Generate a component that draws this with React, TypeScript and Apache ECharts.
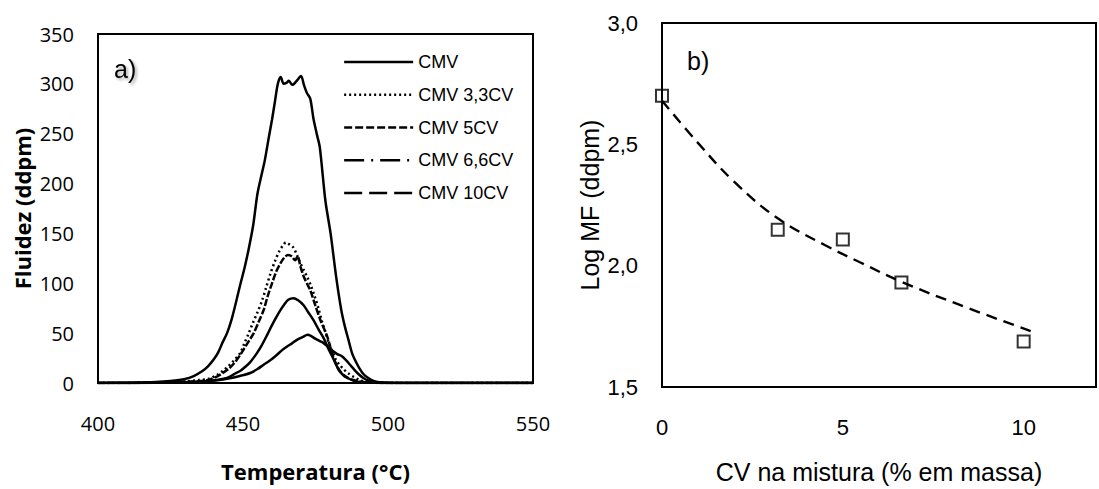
import React, { useEffect, useRef } from "react";
import * as echarts from "echarts";

// ---------- Panel a) : fluidity curves ----------
const seriesNames = ["CMV", "CMV 3,3CV", "CMV 5CV", "CMV 6,6CV", "CMV 10CV"];

const cmvT = [400, 410, 420, 425, 430, 433, 436, 438, 440, 441.5, 443, 444.5, 446, 447.5, 449, 450.5, 452, 453.5, 455, 456.5, 457.5, 459, 460, 461, 461.8, 462.4, 463, 464, 465, 465.8, 467, 468.5, 470, 471, 472, 473.2, 474.3, 475.5, 476.5, 478.4, 480.2, 482.1, 483.9, 485.1, 486.3, 487.6, 488.8, 490.1, 491.5, 493.2, 495, 497, 500, 510, 550];
const cmvF = [0, 0.3, 1, 2, 4, 7, 12, 17, 24, 31, 41, 50, 63, 80, 98, 115, 135, 158, 190, 210, 223, 248, 264, 282, 297, 304, 307, 300, 301, 303, 299, 303, 308, 299, 291, 285, 265, 249, 236, 183, 150, 107, 73, 57, 44, 30, 22, 15, 9, 5, 2, 0.7, 0.2, 0, 0];

const cv33T = [400, 420, 430, 435, 438, 441, 443, 445, 447, 449, 450.5, 452, 453.5, 455, 456.5, 458, 459.5, 461, 462.5, 463.8, 464.8, 466, 467.3, 468.5, 469.8, 471, 472.2, 473.5, 474.7, 476, 477.1, 478.4, 479.6, 480.9, 482.1, 483.4, 484.6, 486.2, 488.2, 490.2, 492.4, 495, 500, 550];
const cv33F = [0, 0.3, 1.5, 3, 4, 8, 12, 17, 23, 30, 40, 50, 61, 71, 82, 96, 110, 122, 132, 138, 141, 139, 136, 129, 120, 113, 106, 97, 87, 75, 63, 51, 40, 31, 23, 18, 14, 10, 6, 3, 1, 0.3, 0, 0];

const cv5T = [400, 420, 430, 435, 438, 441, 443, 445, 447, 449, 450.5, 452, 453.7, 455.5, 457.1, 458.5, 460, 461.5, 462.9, 464.3, 465.5, 466.8, 468, 468.8, 469.8, 470.9, 472, 473.2, 474.9, 476.7, 479, 480.7, 482.4, 484, 486, 488, 490, 493, 500, 550];
const cv5F = [0, 0.3, 1.2, 2, 3, 6.5, 10, 14, 20, 28, 35, 42, 50, 62, 73, 87, 100, 112, 120, 126, 128.3, 127, 123, 127, 117, 107, 100, 93, 78, 63, 47, 30, 17, 10, 5.5, 3, 1.5, 0.5, 0, 0];

const cv66T = [400, 420, 430, 435, 438, 441, 444.5, 447, 449, 450.5, 452.5, 454.8, 456.5, 458.3, 460, 461.5, 462.9, 464.3, 465.6, 467.4, 469, 470.9, 472.5, 474.3, 476, 477.8, 479.2, 480.7, 482, 483, 484.5, 486, 488, 490, 495, 500, 550];
const cv66F = [0, 0.2, 0.8, 1.3, 2, 3, 5, 9, 12, 15.5, 21, 30, 38, 48, 58, 66, 73, 79, 83.5, 85, 83, 78, 71, 63, 54, 45, 36, 27, 19, 13, 8, 5, 2.5, 1, 0.2, 0, 0];

const cv10T = [400, 420, 430, 435, 440, 444, 446.8, 449.5, 452.5, 455, 457.1, 459.5, 461.7, 463.5, 465.2, 467, 468.6, 470.5, 472.3, 473.5, 474.9, 476.5, 477.8, 479.5, 481, 482.5, 484, 485.5, 487, 488.5, 490, 491.5, 493, 495, 498, 505, 550];
const cv10F = [0, 0.2, 0.8, 1.5, 2.5, 4, 5.5, 7.5, 10, 14, 18.3, 23, 28.3, 33, 36.6, 40, 43.3, 46, 48.3, 47, 44.5, 42, 40, 36, 32, 29, 27, 23, 18, 13, 8.5, 5, 2.5, 1, 0.2, 0, 0];

const tempTicks = [400, 450, 500, 550];

// ---------- Panel b) : log MF vs CV ----------
const cvContent = [0, 3.2, 5, 6.62, 10];
const logMF = [2.7, 2.148, 2.108, 1.931, 1.688];

const trendCV = [0, 1, 2, 3.2, 4.5, 5.5, 6.6, 8.2, 10.2];
const trendLogMF = [2.68, 2.505, 2.345, 2.195, 2.085, 2.012, 1.935, 1.84, 1.73];

const pairs = (xs: number[], ys: number[]) => xs.map((x, i) => [x, ys[i]]);

// dash pattern shown in the legend / dash pattern of the plotted (densely sampled) curve
const legendDash: any[] = ["solid", [2, 3], [8, 3], [20, 7, 2, 7], [18, 7]];
const curveDash: any[] = ["solid", [2, 3], [7, 2], "solid", "solid"];

export default function App() {
  const ref = useRef<HTMLDivElement>(null);

  useEffect(() => {
    if (!ref.current) return;
    const chart = echarts.init(ref.current, undefined, { renderer: "svg" });
    const curves = [
      [cmvT, cmvF],
      [cv33T, cv33F],
      [cv5T, cv5F],
      [cv66T, cv66F],
      [cv10T, cv10F],
    ];
    const lineSeries = curves.map(([xs, ys], i) => ({
      name: seriesNames[i],
      type: "line",
      xAxisIndex: 0,
      yAxisIndex: 0,
      data: pairs(xs, ys),
      symbol: "none",
      smooth: 0.3,
      lineStyle: { color: "#000", width: 2.5, type: curveDash[i] },
      itemStyle: { color: "#000" },
      z: 3,
    }));

    const option: any = {
      animation: false,
      backgroundColor: "#fff",
      textStyle: { fontFamily: "Liberation Sans" },
      grid: [
        { left: 98, top: 34, width: 435, height: 349, show: true, borderColor: "#000", borderWidth: 2, backgroundColor: "transparent" },
        { left: 662, top: 23, width: 443, height: 366, show: true, borderColor: "#000", borderWidth: 2, backgroundColor: "transparent" },
      ],
      legend: {
        data: seriesNames.map((n, i) => ({
          name: n,
          lineStyle: { type: legendDash[i], width: 2.3, color: "#000" },
        })),
        orient: "vertical",
        left: 343,
        top: 53,
        padding: 0,
        itemWidth: 69,
        itemHeight: 18,
        itemGap: 14.75,
        selectedMode: false,
        textStyle: { fontFamily: "Liberation Sans", fontSize: 18, color: "#000", lineHeight: 18 },
        lineStyle: { width: 2.3 },
        itemStyle: { opacity: 0, borderWidth: 0 },
      },
      xAxis: [
        {
          gridIndex: 0,
          type: "value",
          min: tempTicks[0],
          max: tempTicks[tempTicks.length - 1],
          interval: 50,
          axisLine: { show: false },
          axisTick: { show: false },
          splitLine: { show: false },
          axisLabel: { fontFamily: "Open Sans", fontSize: 20, color: "#000", margin: 30 },
          name: "Temperatura (°C)",
          nameLocation: "middle",
          nameGap: 77,
          nameTextStyle: { fontFamily: "Open Sans", fontWeight: "bold", fontSize: 22, color: "#000" },
        },
        {
          gridIndex: 1,
          type: "value",
          min: 0,
          max: 12,
          interval: 5,
          axisLine: { show: false },
          axisTick: { show: false },
          splitLine: { show: false },
          axisLabel: {
            fontFamily: "Liberation Sans",
            fontSize: 22,
            color: "#000",
            margin: 29,
            formatter: (v: number) => (v % 5 === 0 ? String(v) : ""),
          },
          name: "CV na mistura (% em massa)",
          nameLocation: "middle",
          nameGap: 72,
          nameTextStyle: { fontFamily: "Liberation Sans", fontSize: 25, color: "#000" },
        },
      ],
      yAxis: [
        {
          gridIndex: 0,
          type: "value",
          min: 0,
          max: 350,
          interval: 50,
          axisLine: { show: false },
          axisTick: { show: false },
          splitLine: { show: false },
          axisLabel: { fontFamily: "Open Sans", fontSize: 20, color: "#000", margin: 24 },
          name: "Fluidez (ddpm)",
          nameLocation: "middle",
          nameGap: 65,
          nameTextStyle: { fontFamily: "Open Sans", fontWeight: "bold", fontSize: 22, color: "#000" },
        },
        {
          gridIndex: 1,
          type: "value",
          min: 1.5,
          max: 3.0,
          interval: 0.5,
          axisLine: { show: false },
          axisTick: { show: false },
          splitLine: { show: false },
          axisLabel: {
            fontFamily: "Liberation Sans",
            fontSize: 22,
            color: "#000",
            margin: 24,
            formatter: (v: number) => v.toFixed(1).replace(".", ","),
          },
          name: "Log MF (ddpm)",
          nameLocation: "middle",
          nameGap: 60,
          nameTextStyle: { fontFamily: "Liberation Sans", fontSize: 25, color: "#000" },
        },
      ],
      graphic: [
        {
          type: "text",
          x: 114,
          y: 68.5,
          style: {
            text: "a)",
            font: "25px 'Liberation Sans'",
            fill: "#000",
            textAlign: "left",
            textVerticalAlign: "middle",
            textShadowColor: "rgba(0,0,0,0.35)",
            textShadowBlur: 3,
            textShadowOffsetX: 2,
            textShadowOffsetY: 2,
          },
        },
        {
          type: "text",
          x: 687,
          y: 61,
          style: {
            text: "b)",
            font: "25px 'Liberation Sans'",
            fill: "#000",
            textAlign: "left",
            textVerticalAlign: "middle",
          },
        },
      ],
      series: [
        ...lineSeries,
        {
          name: "MF",
          type: "scatter",
          xAxisIndex: 1,
          yAxisIndex: 1,
          data: pairs(cvContent, logMF),
          symbol: "rect",
          symbolSize: 12,
          itemStyle: { color: "transparent", borderColor: "#000", borderWidth: 2 },
          z: 2,
        },
        {
          name: "Tendência",
          type: "line",
          xAxisIndex: 1,
          yAxisIndex: 1,
          data: pairs(trendCV, trendLogMF),
          symbol: "none",
          smooth: 0.4,
          lineStyle: { color: "#000", width: 2.4, type: [11, 7] },
          z: 3,
        },
      ],
    };
    chart.setOption(option);
    return () => chart.dispose();
  }, []);

  return (
    <div
      ref={ref}
      style={{ position: "fixed", left: 0, top: 0, width: 1099, height: 489, background: "#fff" }}
    />
  );
}
